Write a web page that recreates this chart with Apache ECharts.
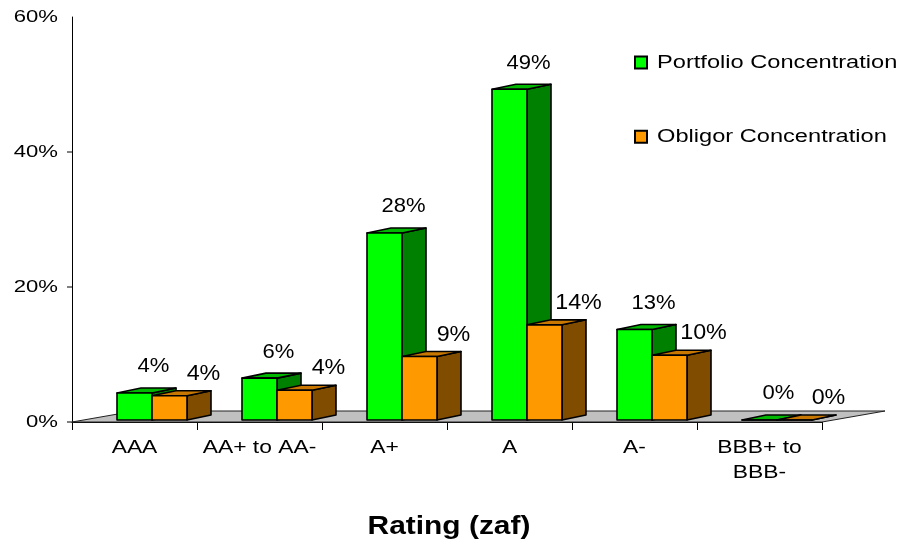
<!DOCTYPE html>
<html><head><meta charset="utf-8">
<script src="https://cdn.jsdelivr.net/npm/echarts@6/dist/echarts.min.js"></script>
<style>html,body{margin:0;padding:0;background:#fff}#c{width:904px;height:544px}</style>
</head><body><div id="c"></div>
<script>
const categories = ['AAA', 'AA+ to AA-', 'A+', 'A', 'A-', 'BBB+ to\nBBB-'];
const seriesNames = ['Portfolio Concentration', 'Obligor Concentration'];
const portfolio = [4.0, 6.2, 27.7, 49.0, 13.4, 0];
const obligor = [3.6, 4.4, 9.4, 14.1, 9.6, 0];
const yTicks = [0, 20, 40, 60];
const axisTitle = 'Rating (zaf)';

const FONT = '"Liberation Sans", Arial, Helvetica, sans-serif';
const palette = [
  {front: '#00FF00', side: '#008000', top: '#00B800', labelSize: 19.5, labelScale: 1.13, lx: 19, ly: 26},
  {front: '#FF9900', side: '#804C00', top: '#C87800', labelSize: 22, labelScale: 1.06, lx: 34, ly: 22}
];
const DX = 24, DY = -5, LIFT = 2;

function barRender(s) {
  return function (params, api) {
    const i = api.value(0), v = api.value(1);
    const top = api.coord([i, v]);
    const base = api.coord([i, 0]);
    const bw = api.size([1, 0])[0];
    const fw = bw * 0.28;
    const x0 = top[0] - bw * 0.14 + s * fw;
    const yT = top[1] - LIFT, yB = base[1] - LIFT;
    const p = palette[s];
    const st = (fill) => ({fill: fill, stroke: '#000', lineWidth: 1.6, lineJoin: 'round'});
    return {type: 'group', children: [
      {type: 'polygon', shape: {points: [[x0 + fw, yB], [x0 + fw + DX, yB + DY], [x0 + fw + DX, yT + DY], [x0 + fw, yT]]}, style: st(p.side)},
      {type: 'polygon', shape: {points: [[x0, yT], [x0 + DX, yT + DY], [x0 + fw + DX, yT + DY], [x0 + fw, yT]]}, style: st(p.top)},
      {type: 'rect', shape: {x: x0, y: yT, width: fw, height: yB - yT}, style: st(p.front)},
      {type: 'text', x: x0 + fw / 2 + p.lx, y: yT - p.ly, scaleX: p.labelScale,
        style: {text: Math.round(v) + '%', x: 0, y: 0, align: 'center', verticalAlign: 'middle', font: p.labelSize + 'px ' + FONT, fill: '#000'}}
    ]};
  };
}

const chart = echarts.init(document.getElementById('c'), null, {renderer: 'canvas'});
const option = {
  animation: false,
  backgroundColor: '#fff',
  grid: {left: 72, right: 82, top: 17, bottom: 122, outerBoundsMode: 'none'},
  xAxis: {
    type: 'category', data: categories,
    axisLine: {show: true, lineStyle: {color: '#000', width: 1}},
    axisTick: {show: true, length: 8, interval: 0, lineStyle: {color: '#000'}},
    axisLabel: {show: false},
    splitLine: {show: false}
  },
  yAxis: {
    type: 'value', min: 0, max: 60, interval: 20,
    axisLine: {show: true, lineStyle: {color: '#000', width: 1}},
    axisTick: {show: false},
    axisLabel: {show: false},
    splitLine: {show: false}
  },
  series: [
    {type: 'custom', name: 'floor', silent: true, z: 1, data: [[0, 0]],
      renderItem: function (params, api) {
        const cs = params.coordSys;
        const x = cs.x, y = cs.y + cs.height, w = cs.width;
        return {type: 'polygon', shape: {points: [[x, y], [x + w, y], [x + w + 63, y - 11], [x + 63, y - 11]]},
          style: {fill: '#C0C0C0', stroke: '#222', lineWidth: 1}};
      }},
    {type: 'custom', name: seriesNames[0], z: 3, data: portfolio.map((v, i) => [i, v]), renderItem: barRender(0)},
    {type: 'custom', name: seriesNames[1], z: 4, data: obligor.map((v, i) => [i, v]), renderItem: barRender(1)},
    {type: 'custom', name: 'xlabels', silent: true, z: 5, data: categories.map((c, i) => [i, 0]),
      renderItem: function (params, api) {
        const i = api.value(0);
        const p = api.coord([i, 0]);
        return {type: 'text', x: p[0], y: p[1] + 13.5, scaleX: 1.27,
          style: {text: categories[i], x: 0, y: 0, align: 'center', verticalAlign: 'top', lineHeight: 25, font: '18px ' + FONT, fill: '#000'}};
      }},
    {type: 'custom', name: 'ylabels', silent: true, z: 5, data: yTicks.map(v => [0, v]),
      renderItem: function (params, api) {
        const v = api.value(1);
        const p = api.coord([0, v]);
        const x = params.coordSys.x;
        const kids = [{type: 'text', x: x - 14, y: p[1], scaleX: 1.3,
          style: {text: v + '%', x: 0, y: 0, align: 'right', verticalAlign: 'middle', font: '17px ' + FONT, fill: '#000'}}];
        if (v !== yTicks[yTicks.length - 1]) {
          kids.push({type: 'line', shape: {x1: x - 5, y1: p[1], x2: x, y2: p[1]}, style: {stroke: '#000', lineWidth: 1}});
        }
        return {type: 'group', children: kids};
      }}
  ],
  graphic: [
    {type: 'rect', shape: {x: 635, y: 56.5, width: 12, height: 12}, style: {fill: palette[0].front, stroke: '#000', lineWidth: 2}},
    {type: 'text', x: 657, y: 62.8, scaleX: 1.35, style: {text: seriesNames[0], align: 'left', verticalAlign: 'middle', font: '17.5px ' + FONT, fill: '#000'}},
    {type: 'rect', shape: {x: 635, y: 130.7, width: 12, height: 12}, style: {fill: palette[1].front, stroke: '#000', lineWidth: 2}},
    {type: 'text', x: 657, y: 136.7, scaleX: 1.35, style: {text: seriesNames[1], align: 'left', verticalAlign: 'middle', font: '17.5px ' + FONT, fill: '#000'}},
    {type: 'text', x: 449, y: 527, scaleX: 1.15, style: {text: axisTitle, align: 'center', verticalAlign: 'middle', font: 'bold 26px ' + FONT, fill: '#000'}}
  ]
};
chart.setOption(option);
</script>
</body></html>
